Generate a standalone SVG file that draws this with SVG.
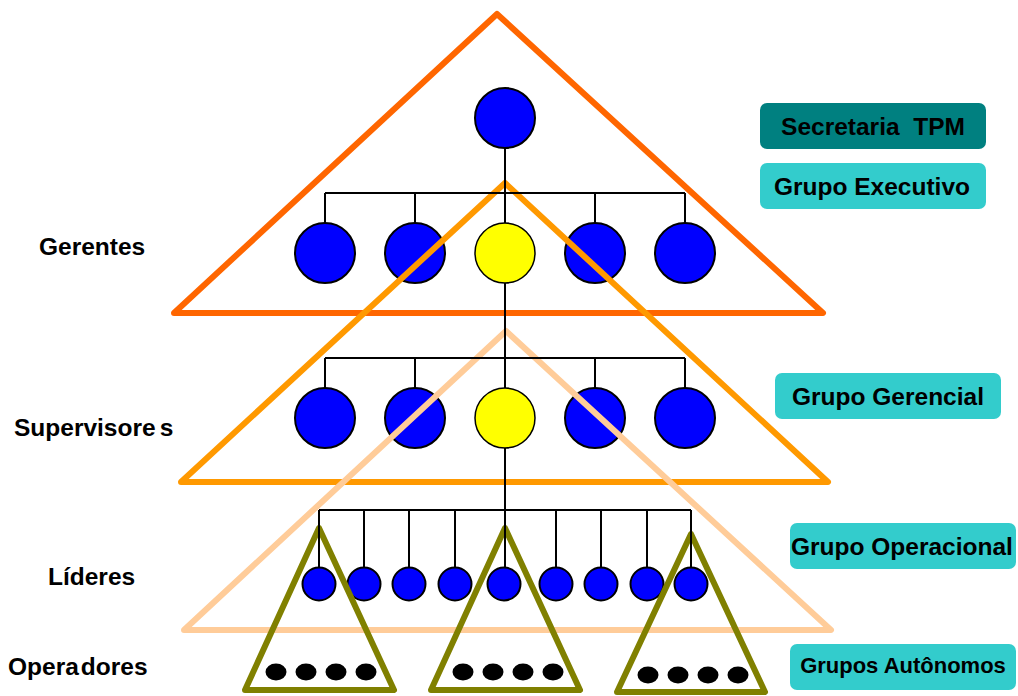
<svg xmlns="http://www.w3.org/2000/svg" width="1018" height="696" viewBox="0 0 1018 696">
  <style>
    .lbl { font-family: "Liberation Sans", Arial, sans-serif; font-weight: bold; font-size: 24.5px; fill: #000; }
    .box-dark { fill: #008080; }
    .box-light { fill: #33CCCC; }
    .mgr { fill: #0000FF; stroke: #000; stroke-width: 2; }
    .key { fill: #FFFF00; stroke: #000; stroke-width: 1.5; }
    .lead { fill: #0000FF; stroke: #000; stroke-width: 2; }
    .op { fill: #000; }
    .tri { fill: none; stroke-width: 6; stroke-linejoin: round; }
    .wire { fill: none; stroke: #000; stroke-width: 2; }
  </style>

  <!-- level labels -->
  <g id="level-labels">
    <text class="lbl" x="39" y="255">Gerentes</text>
    <text class="lbl" x="14" y="436">Supervisore<tspan dx="4">s</tspan></text>
    <text class="lbl" x="48" y="585">Líderes</text>
    <text class="lbl" x="8" y="675">Opera<tspan dx="2">dores</tspan></text>
  </g>

  <!-- group tags on the right -->
  <g id="tag-secretaria">
    <rect class="box-dark" x="760" y="103" width="226" height="46" rx="7"/>
    <text class="lbl" x="873" y="135" text-anchor="middle" xml:space="preserve">Secretaria  TPM</text>
  </g>
  <g id="tag-executivo">
    <rect class="box-light" x="760" y="163" width="226" height="46" rx="7"/>
    <text class="lbl" x="872" y="195" text-anchor="middle">Grupo Executivo</text>
  </g>
  <g id="tag-gerencial">
    <rect class="box-light" x="775" y="373" width="226" height="46" rx="7"/>
    <text class="lbl" x="888" y="405" text-anchor="middle">Grupo Gerencial</text>
  </g>
  <g id="tag-operacional">
    <rect class="box-light" x="790" y="523" width="226" height="46" rx="7"/>
    <text class="lbl" x="791" y="555">Grupo Operacional</text>
  </g>
  <g id="tag-autonomos">
    <rect class="box-light" x="790" y="644" width="226" height="46" rx="7"/>
    <text class="lbl" x="903" y="673" text-anchor="middle" style="font-size:22px">Grupos Autônomos</text>
  </g>

  <!-- people -->
  <g id="node-director">
    <circle class="mgr" cx="505" cy="118" r="30"/>
  </g>
  <g id="row-gerentes">
    <circle class="mgr" cx="325" cy="253" r="30"/>
    <circle class="mgr" cx="415" cy="253" r="30"/>
    <circle class="key" cx="505" cy="253" r="30"/>
    <circle class="mgr" cx="595" cy="253" r="30"/>
    <circle class="mgr" cx="685" cy="253" r="30"/>
  </g>
  <g id="row-supervisores">
    <circle class="mgr" cx="325" cy="418" r="30"/>
    <circle class="mgr" cx="415" cy="418" r="30"/>
    <circle class="key" cx="505" cy="418" r="30"/>
    <circle class="mgr" cx="595" cy="418" r="30"/>
    <circle class="mgr" cx="685" cy="418" r="30"/>
  </g>
  <g id="row-lideres">
    <circle class="lead" cx="319" cy="584" r="16.5"/>
    <circle class="lead" cx="364" cy="584" r="16.5"/>
    <circle class="lead" cx="409" cy="584" r="16.5"/>
    <circle class="lead" cx="455" cy="584" r="16.5"/>
    <circle class="lead" cx="504" cy="584" r="16.5"/>
    <circle class="lead" cx="556" cy="584" r="16.5"/>
    <circle class="lead" cx="601" cy="584" r="16.5"/>
    <circle class="lead" cx="647" cy="584" r="16.5"/>
    <circle class="lead" cx="691" cy="584" r="16.5"/>
  </g>
  <g id="row-operadores">
    <ellipse class="op" cx="276" cy="672" rx="10.5" ry="8.5"/>
    <ellipse class="op" cx="306" cy="672" rx="10.5" ry="8.5"/>
    <ellipse class="op" cx="336" cy="672" rx="10.5" ry="8.5"/>
    <ellipse class="op" cx="366" cy="672" rx="10.5" ry="8.5"/>
    <ellipse class="op" cx="463" cy="672" rx="10.5" ry="8.5"/>
    <ellipse class="op" cx="493" cy="672" rx="10.5" ry="8.5"/>
    <ellipse class="op" cx="523" cy="672" rx="10.5" ry="8.5"/>
    <ellipse class="op" cx="553" cy="672" rx="10.5" ry="8.5"/>
    <ellipse class="op" cx="648" cy="675" rx="10.5" ry="8.5"/>
    <ellipse class="op" cx="678" cy="675" rx="10.5" ry="8.5"/>
    <ellipse class="op" cx="708" cy="675" rx="10.5" ry="8.5"/>
    <ellipse class="op" cx="738" cy="675" rx="10.5" ry="8.5"/>
  </g>

  <!-- group pyramids -->
  <g id="pyramid-executivo">
    <polygon class="tri" stroke="#FF6600" points="497,14 823,313 174,313"/>
  </g>
  <g id="pyramid-gerencial">
    <polygon class="tri" stroke="#FF9900" points="505,183 828,482 181,482"/>
  </g>
  <g id="pyramid-operacional">
    <polygon class="tri" stroke="#FFCC99" points="506,331 831,630 184,630"/>
  </g>
  <g id="pyramid-autonomo-1">
    <polygon class="tri" stroke="#808000" points="319,528 394,690 245,690"/>
  </g>
  <g id="pyramid-autonomo-2">
    <polygon class="tri" stroke="#808000" points="505,528 580,690 431,690"/>
  </g>
  <g id="pyramid-autonomo-3">
    <polygon class="tri" stroke="#808000" points="691,534 765,692 617,692"/>
  </g>

  <!-- reporting lines -->
  <g id="connectors">
    <path class="wire" d="M505,148 V193 M325,193 H685 M325,193 V223 M415,193 V223 M595,193 V223 M685,193 V223 M505,193 V223"/>
    <path class="wire" d="M505,283 V388 M325,358 H685 M325,358 V388 M415,358 V388 M595,358 V388 M685,358 V388"/>
    <path class="wire" d="M505,448 V568 M319,510 H691 M319,510 V568 M364,510 V568 M409,510 V568 M455,510 V568 M556,510 V568 M601,510 V568 M647,510 V568 M691,510 V568"/>
  </g>
</svg>
